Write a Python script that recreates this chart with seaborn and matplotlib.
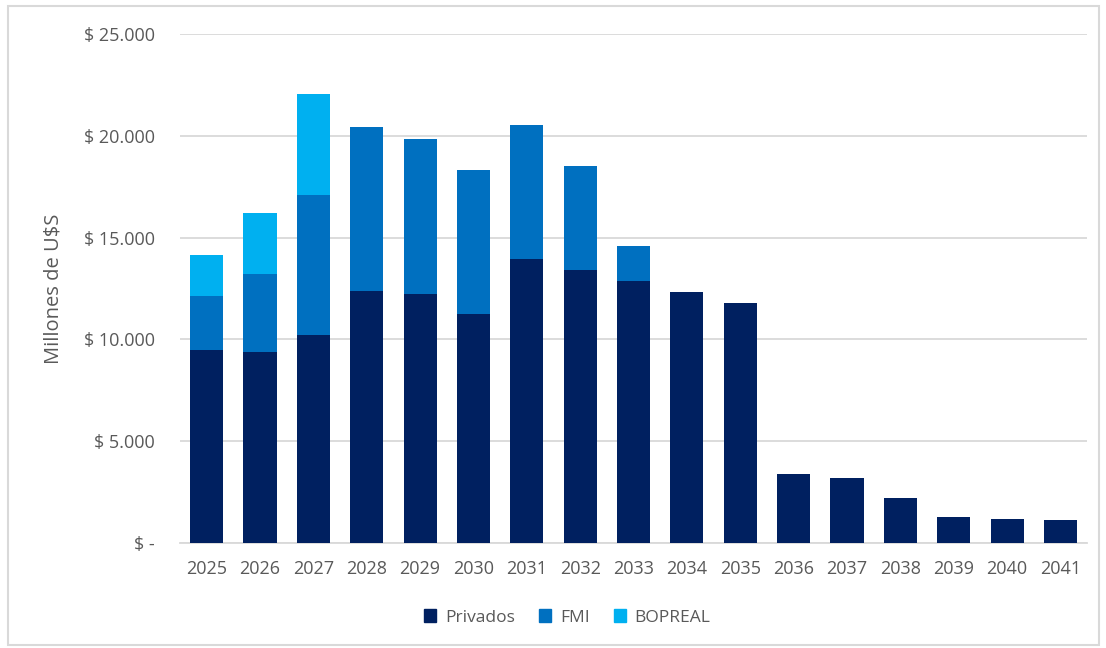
import matplotlib
matplotlib.use("Agg")
import matplotlib.pyplot as plt
from matplotlib.patches import Rectangle
from matplotlib.ticker import FuncFormatter
import seaborn as sns
import pandas as pd
import numpy as np

years = [str(y) for y in range(2025, 2042)]
privados = [9460, 9400, 10220, 12360, 12250, 11230, 13950, 13410, 12850, 12340, 11800,
            3390, 3190, 2190, 1260, 1190, 1130]
fmi = [2670, 3800, 6870, 8060, 7580, 7090, 6580, 5120, 1740, 0, 0,
       0, 0, 0, 0, 0, 0]
bopreal = [2020, 2990, 4960, 0, 0, 0, 0, 0, 0, 0, 0,
           0, 0, 0, 0, 0, 0]

series = ["Privados", "FMI", "BOPREAL"]
colors = {"Privados": "#002060", "FMI": "#0070C0", "BOPREAL": "#00B0F0"}

sns.set_theme(style="white")
plt.rcParams["font.family"] = ["Open Sans", "DejaVu Sans"]
text_color = "#595959"

df = pd.DataFrame({"year": years, "Privados": privados, "FMI": fmi, "BOPREAL": bopreal})
df["c_priv"] = df["Privados"]
df["c_fmi"] = df["c_priv"] + df["FMI"]
df["c_bop"] = df["c_fmi"] + df["BOPREAL"]

fig = plt.figure(figsize=(11.06, 6.48), dpi=100)
ax = fig.add_axes([0.1627, 0.162, 0.8203, 0.7855])

# stacked bars drawn as overlapping cumulative totals, tallest first
for col, name in [("c_bop", "BOPREAL"), ("c_fmi", "FMI"), ("c_priv", "Privados")]:
    sns.barplot(data=df, x="year", y=col, color=colors[name], width=0.62,
                saturation=1, ax=ax, zorder=3, linewidth=0)

ax.set_ylim(0, 25000)
ax.set_xlim(-0.5, len(years) - 0.5)
ax.set_yticks(np.arange(0, 25001, 5000))
ax.yaxis.set_major_formatter(FuncFormatter(
    lambda v, p: "$ -" if v == 0 else "$ " + f"{int(v):,}".replace(",", ".")))
ax.grid(axis="y", color="#D9D9D9", linewidth=1.3, zorder=0)
ax.grid(axis="x", visible=False)
for s in ["top", "right", "left"]:
    ax.spines[s].set_visible(False)
ax.spines["bottom"].set_color("#D9D9D9")
ax.spines["bottom"].set_linewidth(1.3)
ax.tick_params(axis="x", length=0, labelsize=13, colors=text_color, pad=12)
ax.tick_params(axis="y", length=0, labelsize=13, colors=text_color, pad=18)
ax.set_xlabel("")
ax.set_ylabel("Millones de U$S", fontsize=14.5, color=text_color)
ax.yaxis.set_label_coords(-0.128, 0.5)

handles = [Rectangle((0, 0), 1, 1, color=colors[n]) for n in series]
leg = fig.legend(handles, series, loc="center", bbox_to_anchor=(0.513, 0.047),
                 ncol=3, frameon=False, fontsize=12.5, handlelength=0.7, handleheight=0.7,
                 columnspacing=1.4, handletextpad=0.5)
for t in leg.get_texts():
    t.set_color(text_color)

fig.patches.append(Rectangle((0.007, 0.005), 0.987, 0.985, transform=fig.transFigure,
                             fill=False, edgecolor="#D9D9D9", linewidth=1.5))

fig.savefig("out.png", dpi=100)
